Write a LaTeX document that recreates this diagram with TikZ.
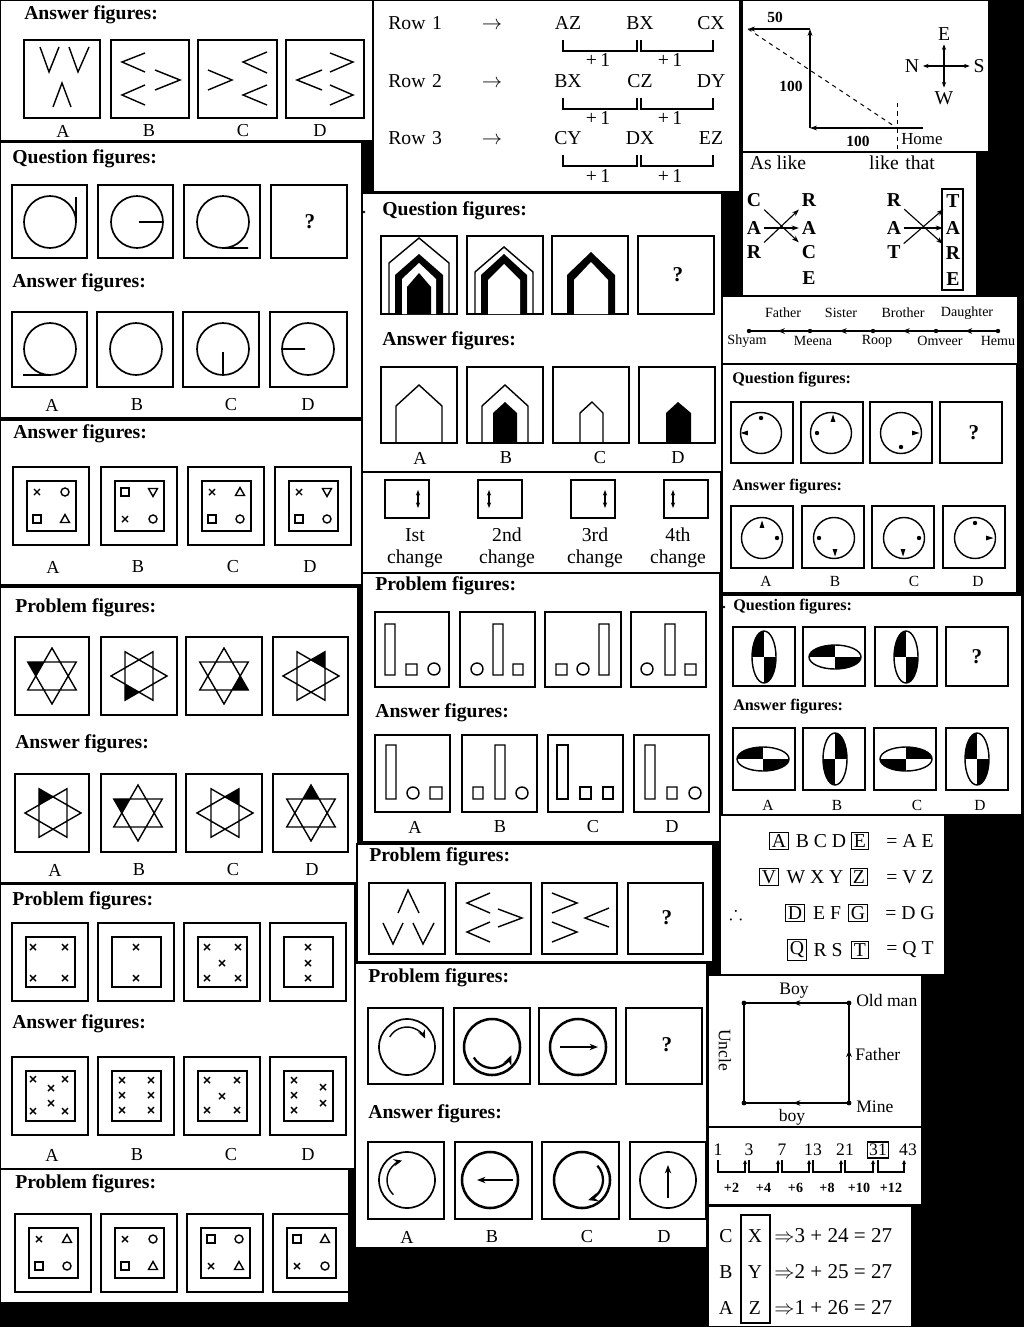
\documentclass[tikz,border=0pt]{standalone}
\usepackage{fontspec}
\setmainfont{Liberation Serif}
\usepackage{amssymb}
\usetikzlibrary{arrows.meta,calc}

\tikzset{
  panel/.style={fill=white,draw=black,line width=0.8pt},
  figbox/.style={draw=black,line width=1.2pt},
  shp/.style={draw=black,line width=1pt},
  ttl/.style={font=\bfseries\fontsize{14}{16}\selectfont,anchor=base west,inner sep=0pt},
  ttlsmall/.style={font=\bfseries\fontsize{11.5}{13}\selectfont,anchor=base west,inner sep=0pt},
  lbl/.style={font=\fontsize{13}{15}\selectfont,inner sep=0pt},
  lblsmall/.style={font=\fontsize{11}{13}\selectfont,inner sep=0pt},
  qmark/.style={font=\bfseries\fontsize{15}{17}\selectfont,inner sep=0pt},
  txt/.style={font=\fontsize{14}{16}\selectfont,inner sep=0pt},
  sqtxt/.style={font=\fontsize{12.5}{14}\selectfont,inner sep=0pt},
  smalltxt/.style={font=\fontsize{10}{12}\selectfont,inner sep=0pt},
  ltr/.style={font=\bfseries\fontsize{14}{16}\selectfont,inner sep=2pt},
  boxed/.style={txt,draw,line width=0.8pt,inner sep=1.6pt},
  arr/.style={-{Stealth[length=5pt,width=3.5pt]},line width=0.8pt},
  halfarr/.style={-{Stealth[length=5pt,width=4pt]},line width=0.8pt},
  tinyarr/.style={{Stealth[length=4pt,width=3pt]}-{Stealth[length=4pt,width=3pt]},line width=0.8pt},
}

\newcommand{\xmk}[2]{\draw[shp] (#1-3,#2-3) -- (#1+3,#2+3) (#1-3,#2+3) -- (#1+3,#2-3);}
\newcommand{\omk}[2]{\draw[shp] (#1,#2) circle[radius=4];}
\newcommand{\smk}[2]{\draw[shp] (#1-4,#2-4) rectangle (#1+4,#2+4);}
\newcommand{\tmk}[2]{\draw[shp] (#1,#2-4.5) -- (#1+4.5,#2+3.5) -- (#1-4.5,#2+3.5) -- cycle;}
\newcommand{\vmk}[2]{\draw[shp] (#1,#2+4.5) -- (#1+4.5,#2-3.5) -- (#1-4.5,#2-3.5) -- cycle;}
\newcommand{\nestbox}[2]{\draw[figbox] (#1,#2) rectangle ++(76,78); \draw[figbox] (#1+14,#2+14) rectangle ++(49,50);}
\newcommand{\symfig}[6]{\nestbox{#1}{#2}#3{#1+24}{#2+25}#4{#1+52}{#2+25}#5{#1+24}{#2+52}#6{#1+52}{#2+52}}
\newcommand{\hexstar}[4]{%
  \fill ([shift={(#1,#2)}]-#4:28) -- ([shift={(#1,#2)}]-#4+30:16.2) -- ([shift={(#1,#2)}]-#4-30:16.2) -- cycle;
  \draw[shp] ([shift={(#1,#2)}]-#3:28) -- ([shift={(#1,#2)}]-#3-120:28) -- ([shift={(#1,#2)}]-#3-240:28) -- cycle
    ([shift={(#1,#2)}]-#3-60:28) -- ([shift={(#1,#2)}]-#3-180:28) -- ([shift={(#1,#2)}]-#3-300:28) -- cycle;}
\newcommand{\qell}[5]{%
  \begin{scope}
    \clip (#1,#2) ellipse[x radius=#3,y radius=#4];
    \ifnum#5=1
      \fill (#1-#3,#2-#4) rectangle (#1,#2); \fill (#1,#2) rectangle (#1+#3,#2+#4);
    \else
      \fill (#1,#2-#4) rectangle (#1+#3,#2); \fill (#1-#3,#2) rectangle (#1,#2+#4);
    \fi
  \end{scope}
  \draw[shp] (#1,#2) ellipse[x radius=#3,y radius=#4];}
\newcommand{\ptri}[3]{\fill ([shift={(#1,#2)}]-#3:4.5) -- ([shift={(#1,#2)}]-#3-140:3.8) -- ([shift={(#1,#2)}]-#3+140:3.8) -- cycle;}

\begin{document}
\begin{tikzpicture}[x=0.025cm,y=-0.025cm]
\fill[black] (0,0) rectangle (1024,1327);
\useasboundingbox (0,0) rectangle (1024,1327);

\draw[panel] (0,0) rectangle (373,141);
\draw[panel] (373,0) rectangle (740,192);
\draw[panel] (742,0) rectangle (989,152);
\draw[panel] (742,152) rectangle (977,296);
\draw[panel] (0,142) rectangle (362,418);
\draw[panel] (362,193) rectangle (722,472);
\draw[panel] (722,296) rectangle (1018,364);
\draw[panel] (722,364) rectangle (1017,593);
\draw[panel] (0,420) rectangle (362,585);
\draw[panel] (362,472) rectangle (721,573);
\draw[panel] (362,573) rectangle (720,842);
\draw[panel] (722,595) rectangle (1022,815);
\draw[panel] (0,587) rectangle (358,883);
\draw[panel] (0,884) rectangle (355,1169);
\draw[panel] (0,1169) rectangle (349,1303);
\draw[panel] (357,844) rectangle (713,962);
\draw[panel] (355,963) rectangle (707,1248);
\draw[panel] (720,815) rectangle (945,975);
\draw[panel] (708,975) rectangle (922,1127);
\draw[panel] (708,1127) rectangle (922,1205);
\draw[panel] (708,1206) rectangle (912,1327);

\node[ttl] (ans1) at (24,20) {Answer figures:};
\draw[figbox] (24,40) rectangle (100,118);
\draw[figbox] (111,40) rectangle (189,118);
\draw[figbox] (198,40) rectangle (277,118);
\draw[figbox] (286,40) rectangle (364,118);
\draw[shp] (40,47) -- (49,72) -- (59,47) (69,47) -- (78,72) -- (89,47) (53,107) -- (62,83) -- (71,107);
\draw[shp] (145,53) -- (122,62) -- (145,72) (155,70) -- (180,80) -- (155,90) (145,85) -- (122,95) -- (145,105);
\draw[shp] (208,70) -- (232,80) -- (208,90) (267,52) -- (243,62) -- (267,73) (267,85) -- (243,95) -- (267,105);
\draw[shp] (322,70) -- (297,80) -- (322,90) (330,53) -- (353,62) -- (330,72) (330,85) -- (353,95) -- (330,105);
\foreach \x/\l in {63/A,149/B,243/C,320/D} \node[lbl] (p1\l) at (\x,131) {\l};

\foreach \y/\rw/\pa/\pb/\pc in {30/1/AZ/BX/CX,88/2/BX/CZ/DY,145/3/CY/DX/EZ}{
  \node[txt,anchor=base west] (row\rw) at (388,\y) {Row\,\,\rw};
  \node[txt,anchor=base] (to\rw) at (492,\y) {$\rightarrow$};
  \node[txt,anchor=base] (pa\rw) at (568,\y) {\pa};
  \node[txt,anchor=base] (pb\rw) at (640,\y) {\pb};
  \node[txt,anchor=base] (pc\rw) at (711,\y) {\pc};
  \draw[line width=1.1pt] (563,\y+10) -- (563,\y+21) -- (637,\y+21) -- (637,\y+10)
                          (641,\y+10) -- (641,\y+21) -- (713,\y+21) -- (713,\y+10);
  \node[txt,anchor=base] (pl\rw) at (598,\y+37) {+\,1};
  \node[txt,anchor=base] (pr\rw) at (670,\y+37) {+\,1};
}

\node[font=\bfseries\fontsize{11}{13}\selectfont,inner sep=0pt] (d50) at (775,17) {50};
\node[font=\bfseries\fontsize{11}{13}\selectfont,inner sep=0pt] (d100a) at (791,86) {100};
\node[font=\bfseries\fontsize{11}{13}\selectfont,inner sep=0pt] (d100b) at (858,141) {100};
\node[font=\fontsize{12}{14}\selectfont,inner sep=0pt,anchor=west] (home) at (901,139) {Home};
\coordinate (hm) at (897,128);
\coordinate (c1) at (810,128);
\coordinate (c2) at (810,29);
\coordinate (c3) at (748,29);
\draw[line width=1.1pt,-{Stealth[length=5pt,width=3.5pt]}] (923,128) -- (c1);
\draw[line width=1.1pt,-{Stealth[length=5pt,width=3.5pt]}] (c1) -- (c2);
\draw[line width=1.1pt,-{Stealth[length=5pt,width=3.5pt]}] (c2) -- (c3);
\draw[dashed,line width=0.7pt] (c3) -- (hm);
\draw[dashed,line width=0.7pt] (897,103) -- (897,152);
\node[txt,inner sep=2.5pt] (cE) at (944,34) {E};
\node[txt,inner sep=2.5pt] (cW) at (944,98) {W};
\node[txt,inner sep=2.5pt] (cN) at (912,66) {N};
\node[txt,inner sep=2.5pt] (cS) at (979,66) {S};
\draw[tinyarr] (cE) -- (cW);
\draw[tinyarr] (cN) -- (cS);

\node[txt] (aslike) at (778,163) {As like};
\node[txt] (likethat) at (902,163) {like\,\,that};
\node[ltr] (lc) at (754,200) {C};
\node[ltr] (la) at (754,228) {A};
\node[ltr] (lr) at (754,252) {R};
\node[ltr] (rr) at (809,200) {R};
\node[ltr] (ra) at (809,228) {A};
\node[ltr] (rc) at (809,252) {C};
\node[ltr] (re) at (809,278) {E};
\draw[arr] (lc) -- (rc);
\draw[arr] (la) -- (ra);
\draw[arr] (lr) -- (rr);
\node[ltr] (tr) at (894,200) {R};
\node[ltr] (ta) at (894,228) {A};
\node[ltr] (tt) at (894,252) {T};
\draw[line width=0.9pt] (942,189) rectangle (963,290);
\node[ltr] (wt) at (953,201) {T};
\node[ltr] (wa) at (953,228) {A};
\node[ltr] (wr) at (953,253) {R};
\node[ltr] (we) at (953,279) {E};
\draw[arr] (tr) -- (wr);
\draw[arr] (ta) -- (wa);
\draw[arr] (tt) -- (wt);

\node[ttl] (q5) at (12,164) {Question figures:};
\foreach \x/\w in {12/75,98/75,184/76,271/76} \draw[figbox] (\x,185) rectangle ++(\w,73);
\draw[line width=1.2pt] (50,222) circle[radius=26] (76,197) -- (76,222);
\draw[line width=1.2pt] (137,222) circle[radius=26] (139,222) -- (163,222);
\draw[line width=1.2pt] (223,222) circle[radius=26] (223,248) -- (248,248);
\node[qmark] (q5q) at (310,222) {?};
\node[ttl] (a5) at (12,287) {Answer figures:};
\foreach \x/\w in {12/75,97/76,183/76,270/77} \draw[figbox] (\x,312) rectangle ++(\w,75);
\draw[line width=1.2pt] (50,349) circle[radius=26] (23,375) -- (50,375);
\draw[line width=1.2pt] (136,349) circle[radius=26];
\draw[line width=1.2pt] (223,349) circle[radius=26] (223,352) -- (223,375);
\draw[line width=1.2pt] (308,349) circle[radius=26] (282,349) -- (305,349);
\foreach \x/\l in {52/A,137/B,231/C,308/D} \node[lbl] (p5\l) at (\x,405) {\l};

\fill (364,212) circle[radius=1.3];
\node[ttl] (q6) at (382,215) {Question figures:};
\foreach \x in {381,467,552,638} \draw[figbox] (\x,236) rectangle ++(76,78);
\draw[shp] (389,314) -- (389,263) -- (419,238) -- (449,263) -- (449,314);
\fill (395,314) -- (395,275) -- (419,254) -- (443,275) -- (443,314) -- cycle;
\fill[white] (402,314) -- (402,279) -- (419,263) -- (436,279) -- (436,314) -- cycle;
\fill (407,314) -- (407,287) -- (419,273) -- (431,287) -- (431,314) -- cycle;
\draw[shp] (475,314) -- (475,272) -- (504,247) -- (533,272) -- (533,314);
\fill (481,314) -- (481,275) -- (504,254) -- (527,275) -- (527,314) -- cycle;
\fill[white] (488,314) -- (488,280) -- (504,264) -- (520,280) -- (520,314) -- cycle;
\fill (567,314) -- (567,275) -- (591,252) -- (615,275) -- (615,314) -- cycle;
\fill[white] (574,314) -- (574,280) -- (591,262) -- (608,280) -- (608,314) -- cycle;
\node[qmark] (q6q) at (678,275) {?};
\node[ttl] (a6) at (382,345) {Answer figures:};
\foreach \x in {381,467,553,639} \draw[figbox] (\x,367) rectangle ++(76,76);
\draw[shp] (396,443) -- (396,406) -- (419,385) -- (442,406) -- (442,443);
\draw[shp] (482,443) -- (482,406) -- (505,385) -- (528,406) -- (528,443);
\fill (493,443) -- (493,413) -- (505,402) -- (517,413) -- (517,443) -- cycle;
\draw[shp] (580,443) -- (580,413) -- (592,402) -- (603,413) -- (603,443);
\fill (666,443) -- (666,413) -- (678,402) -- (691,413) -- (691,443) -- cycle;
\foreach \x/\l in {420/A,506/B,600/C,678/D} \node[lbl] (p6\l) at (\x,458) {\l};

\foreach \nm/\x in {shyam/749,meena/810,roop/873,omveer/936,hemu/998}{
  \coordinate (\nm) at (\x,331);
  \fill (\nm) circle[radius=2.2];}
\foreach \a/\b in {shyam/meena,meena/roop,roop/omveer,omveer/hemu}{
  \draw[line width=0.8pt] (\a) -- (\b);
  \draw[halfarr] (\b) -- ($(\a)!0.47!(\b)$);}
\node[smalltxt] (tfather) at (783,313) {Father};
\node[smalltxt] (tsister) at (841,313) {Sister};
\node[smalltxt] (tbrother) at (903,313) {Brother};
\node[smalltxt] (tdaughter) at (967,313) {Daughter};
\node[smalltxt] (nshyam) at (747,341) {Shyam};
\node[smalltxt] (nmeena) at (813,341) {Meena};
\node[smalltxt] (nroop) at (877,341) {Roop};
\node[smalltxt] (nomveer) at (940,341) {Omveer};
\node[smalltxt] (nhemu) at (998,341) {Hemu};

\node[ttlsmall] (q8) at (732,383) {Question figures:};
\foreach \x in {731,801,870,940} \draw[figbox] (\x,402) rectangle ++(62,61);
\foreach \x in {761,831,901} \draw[shp] (\x,433) circle[radius=20.5];
\fill (761,418) circle[radius=2.2];
\ptri{745}{433}{180}
\ptri{833}{419}{90}
\fill (817,433) circle[radius=2.2];
\ptri{915}{433}{0}
\fill (901,447) circle[radius=2.2];
\node[qmark] (q8q) at (974,433) {?};
\node[ttlsmall] (a8) at (732,490) {Answer figures:};
\foreach \x in {731,802,872,943} \draw[figbox] (\x,506) rectangle ++(62,62);
\foreach \x in {762,834,904,975} \draw[shp] (\x,538) circle[radius=20.5];
\ptri{762}{525}{90}
\fill (777,538) circle[radius=2.2];
\fill (819,538) circle[radius=2.2];
\ptri{835}{552}{270}
\fill (919,538) circle[radius=2.2];
\ptri{903}{552}{270}
\fill (975,523) circle[radius=2.2];
\ptri{989}{538}{0}
\foreach \x/\l in {766/A,835/B,914/C,978/D} \node[lblsmall] (p8\l) at (\x,581) {\l};

\node[ttl] (a9) at (13,438) {Answer figures:};
\symfig{13}{467}{\xmk}{\omk}{\smk}{\tmk}
\symfig{101}{467}{\smk}{\vmk}{\xmk}{\omk}
\symfig{188}{467}{\xmk}{\tmk}{\smk}{\omk}
\symfig{275}{467}{\xmk}{\vmk}{\smk}{\omk}
\foreach \x/\l in {53/A,138/B,233/C,310/D} \node[lbl] (p9\l) at (\x,567) {\l};

\foreach \x/\ax in {385/418,478/489,571/605,664/673}{
  \draw[figbox] (\x,480) rectangle ++(44,38);
  \draw[tinyarr] (\ax,490) -- (\ax,508);}
\foreach \x/\t/\i in {415/Ist/1,507/2nd/2,595/3rd/3,678/4th/4}{
  \node[txt] (ch\i) at (\x,535) {\t};
  \node[txt] (chg\i) at (\x,559) {change};}

\node[ttl] (p11) at (375,590) {Problem figures:};
\foreach \x/\w in {375/74,460/75,545/76,631/75} \draw[figbox] (\x,612) rectangle ++(\w,75);
\draw[shp] (385,624) rectangle (395,675) (406,664) rectangle (417,675) (434,669) circle[radius=6];
\draw[shp] (477,669) circle[radius=6] (493,624) rectangle (503,675) (513,664) rectangle (523,675);
\draw[shp] (556,664) rectangle (567,675) (583,669) circle[radius=6] (599,624) rectangle (609,675);
\draw[shp] (647,669) circle[radius=6] (665,624) rectangle (675,675) (685,664) rectangle (696,675);
\node[ttl] (a11) at (375,717) {Answer figures:};
\foreach \x in {375,462,548,634} \draw[figbox] (\x,735) rectangle ++(75,77);
\draw[shp] (386,745) rectangle (396,799) (413,793) circle[radius=6] (430,787) rectangle (442,799);
\draw[shp] (473,787) rectangle (483,799) (495,745) rectangle (505,799) (522,793) circle[radius=6];
\draw[shp] (557,745) rectangle (568,799) (580,787) rectangle (591,799) (603,787) rectangle (613,799);
\draw[shp] (645,745) rectangle (655,799) (667,787) rectangle (677,799) (695,793) circle[radius=6];
\foreach \x/\l in {415/A,500/B,593/C,672/D} \node[lbl] (p11\l) at (\x,827) {\l};

\fill (724,607) circle[radius=1.3];
\node[ttlsmall] (q12) at (733,610) {Question figures:};
\foreach \x in {733,803,875,946} \draw[figbox] (\x,627) rectangle ++(62,59);
\qell{764}{657}{12}{26}{1}
\qell{835}{657}{26}{12}{1}
\qell{906}{657}{12}{26}{1}
\node[qmark] (q12q) at (977,657) {?};
\node[ttlsmall] (a12) at (733,710) {Answer figures:};
\foreach \x in {733,803,874,946} \draw[figbox] (\x,728) rectangle ++(62,62);
\qell{763}{759}{26}{12}{1}
\qell{835}{759}{12}{26}{2}
\qell{906}{759}{26}{12}{2}
\qell{977}{759}{12}{26}{1}
\foreach \x/\l in {768/A,837/B,917/C,980/D} \node[lblsmall] (p12\l) at (\x,805) {\l};

\node[ttl] (p13) at (15,612) {Problem figures:};
\foreach \x/\w in {15/74,101/76,186/76,273/75} \draw[figbox] (\x,637) rectangle ++(\w,78);
\hexstar{52}{676}{90}{150}
\hexstar{139}{676}{0}{240}
\hexstar{224}{676}{90}{330}
\hexstar{311}{676}{0}{60}
\node[ttl] (a13) at (15,748) {Answer figures:};
\foreach \x/\w in {15/74,101/75,186/76,273/75} \draw[figbox] (\x,774) rectangle ++(\w,78);
\hexstar{53}{813}{0}{120}
\hexstar{138}{813}{90}{150}
\hexstar{225}{813}{0}{60}
\hexstar{311}{813}{90}{90}
\foreach \x/\l in {55/A,139/B,233/C,312/D} \node[lbl] (p13\l) at (\x,870) {\l};

\node[ttl] (p14) at (12,905) {Problem figures:};
\foreach \x in {12,98,184,270} {\nestbox{\x}{923}}
\xmk{33}{947} \xmk{65}{947} \xmk{33}{978} \xmk{65}{978}
\xmk{136}{947} \xmk{136}{978}
\xmk{207}{947} \xmk{238}{947} \xmk{222}{963} \xmk{207}{978} \xmk{238}{978}
\xmk{308}{947} \xmk{308}{963} \xmk{308}{978}
\node[ttl] (a14) at (12,1028) {Answer figures:};
\foreach \x in {12,98,184,270} {\nestbox{\x}{1057}}
\xmk{33}{1079} \xmk{65}{1079} \xmk{51}{1088} \xmk{51}{1103} \xmk{33}{1111} \xmk{65}{1111}
\xmk{122}{1080} \xmk{151}{1080} \xmk{122}{1095} \xmk{151}{1095} \xmk{122}{1110} \xmk{151}{1110}
\xmk{207}{1080} \xmk{237}{1080} \xmk{222}{1096} \xmk{207}{1110} \xmk{237}{1110}
\xmk{294}{1080} \xmk{294}{1095} \xmk{294}{1110} \xmk{323}{1087} \xmk{323}{1103}
\foreach \x/\l in {52/A,137/B,231/C,308/D} \node[lbl] (p14\l) at (\x,1155) {\l};

\node[ttl] (p15) at (15,1188) {Problem figures:};
\symfig{15}{1214}{\xmk}{\tmk}{\smk}{\omk}
\symfig{101}{1214}{\xmk}{\omk}{\smk}{\tmk}
\symfig{187}{1214}{\smk}{\omk}{\xmk}{\tmk}
\symfig{273}{1214}{\smk}{\tmk}{\xmk}{\omk}

\node[ttl] (p16) at (369,861) {Problem figures:};
\foreach \x/\w in {369/76,456/75,542/75,628/75} \draw[figbox] (\x,883) rectangle ++(\w,71);
\draw[shp] (398,913) -- (408,890) -- (419,913) (383,923) -- (393,944) -- (403,923) (413,923) -- (423,944) -- (434,923);
\draw[shp] (490,893) -- (467,903) -- (490,913) (490,922) -- (467,932) -- (490,942) (498,909) -- (522,918) -- (498,927);
\draw[shp] (552,893) -- (577,903) -- (552,913) (552,922) -- (577,932) -- (552,942) (609,908) -- (585,918) -- (609,927);
\node[qmark] (p16q) at (667,918) {?};

\node[ttl] (p17) at (368,982) {Problem figures:};
\foreach \x/\w in {368/75,454/76,539/77,626/76} \draw[figbox] (\x,1008) rectangle ++(\w,76);
\draw[line width=1.2pt] (407,1047) circle[radius=28];
\draw[line width=1pt,-{Stealth[length=6pt,width=5pt]}] ([shift={(407,1047)}]-150:20) arc[start angle=-150,end angle=-25,radius=20];
\draw[line width=1.8pt] (492,1047) circle[radius=28];
\draw[line width=1.6pt,-{Stealth[length=7pt,width=6pt]}] ([shift={(492,1047)}]-210:21) arc[start angle=-210,end angle=-337,radius=21];
\draw[line width=1.8pt] (578,1047) circle[radius=28];
\draw[line width=1pt,-{Stealth[length=6pt,width=4.5pt]}] (560,1047) -- (598,1047);
\node[qmark] (p17q) at (667,1045) {?};
\node[ttl] (a17) at (368,1118) {Answer figures:};
\foreach \x/\w in {368/76,455/77,542/77,630/76} \draw[figbox] (\x,1142) rectangle ++(\w,77);
\draw[line width=1.2pt] (407,1180) circle[radius=28];
\draw[line width=1pt,-{Stealth[length=6pt,width=5pt]}] ([shift={(407,1180)}]-227:20) arc[start angle=-227,end angle=-104,radius=20];
\draw[line width=1.8pt] (490,1180) circle[radius=28];
\draw[line width=1pt,-{Stealth[length=6pt,width=4.5pt]}] (513,1180) -- (477,1180);
\draw[line width=1.8pt] (582,1180) circle[radius=28];
\draw[line width=1.6pt,-{Stealth[length=7pt,width=6pt]}] ([shift={(582,1180)}]-43:21) arc[start angle=-43,end angle=73,radius=21];
\draw[line width=1.2pt] (668,1180) circle[radius=28];
\draw[line width=1pt,-{Stealth[length=6pt,width=4.5pt]}] (668,1198) -- (668,1165);
\foreach \x/\l in {407/A,492/B,587/C,664/D} \node[lbl] (p17\l) at (\x,1237) {\l};

\node[boxed] (bxA) at (779,841) {A};
\node[txt] (bBCD) at (821,841) {B C D};
\node[boxed] (bxE) at (860,841) {E};
\node[txt] (eqAE) at (910,841) {= A E};
\node[boxed] (bxV) at (769,877) {V};
\node[txt] (bWXY) at (815,877) {W X Y};
\node[boxed] (bxZ) at (859,877) {Z};
\node[txt] (eqVZ) at (910,877) {= V Z};
\node[txt] (thf) at (736,913) {$\therefore$};
\node[boxed] (bxD) at (795,913) {D};
\node[txt] (bEF) at (827,913) {E F};
\node[boxed] (bxG) at (858,913) {G};
\node[txt] (eqDG) at (910,913) {= D G};
\node[boxed] (bxQ) at (797,950) {Q};
\node[txt] (bRS) at (828,950) {R S};
\node[boxed] (bxT) at (860,950) {T};
\node[txt] (eqQT) at (910,950) {= Q T};

\coordinate (sq1) at (744,1003);
\coordinate (sq2) at (849,1003);
\coordinate (sq3) at (849,1103);
\coordinate (sq4) at (744,1103);
\foreach \c in {sq1,sq2,sq3,sq4} \fill (\c) circle[radius=2.4];
\draw[line width=0.8pt] (sq1) -- (sq2) -- (sq3) -- (sq4) -- cycle;
\draw[halfarr] (sq2) -- ($(sq1)!0.47!(sq2)$);
\draw[halfarr] (sq3) -- ($(sq2)!0.47!(sq3)$);
\draw[halfarr] (sq3) -- ($(sq4)!0.47!(sq3)$);
\node[sqtxt] (boyt) at (794,991) {Boy};
\node[sqtxt,anchor=west] (oldman) at (856,1000) {Old man};
\node[sqtxt,anchor=west] (father) at (855,1054) {Father};
\node[sqtxt,anchor=west] (mine) at (856,1107) {Mine};
\node[sqtxt] (boyb) at (792,1117) {boy};
\node[sqtxt,rotate=-90] (uncle) at (725,1050) {Uncle};

\foreach \v/\x in {1/718,3/749,7/782,13/813,21/845,43/908} \node[sqtxt] (s\v) at (\x,1150) {\v};
\node[sqtxt,draw,line width=0.8pt,inner sep=1.5pt] (s31) at (878,1150) {31};
\foreach \a/\b/\d in {718/745/2,749/778/4,782/809/6,813/841/8,845/873/10,878/904/12}{
  \draw[line width=0.8pt,-{Stealth[length=3pt,width=3pt]}] (\a,1160) -- (\a,1172) -- (\b,1172) -- (\b,1160);
  \node[font=\bfseries\fontsize{10}{12}\selectfont,inner sep=0pt] (inc\d) at (\a/2+\b/2,1188) {+\d};}

\node[txt] (cc) at (726,1236) {C};
\node[txt] (cb) at (726,1272) {B};
\node[txt] (ca) at (726,1308) {A};
\draw[line width=1pt] (741,1215) rectangle (770,1323);
\node[txt] (cx) at (755,1236) {X};
\node[txt] (cy) at (755,1272) {Y};
\node[txt] (cz) at (755,1308) {Z};
\node[txt,anchor=west,font=\fontsize{15}{17}\selectfont] (sum3) at (774,1236) {$\Rightarrow$3 + 24 = 27};
\node[txt,anchor=west,font=\fontsize{15}{17}\selectfont] (sum2) at (774,1272) {$\Rightarrow$2 + 25 = 27};
\node[txt,anchor=west,font=\fontsize{15}{17}\selectfont] (sum1) at (774,1308) {$\Rightarrow$1 + 26 = 27};
\end{tikzpicture}
\end{document}
